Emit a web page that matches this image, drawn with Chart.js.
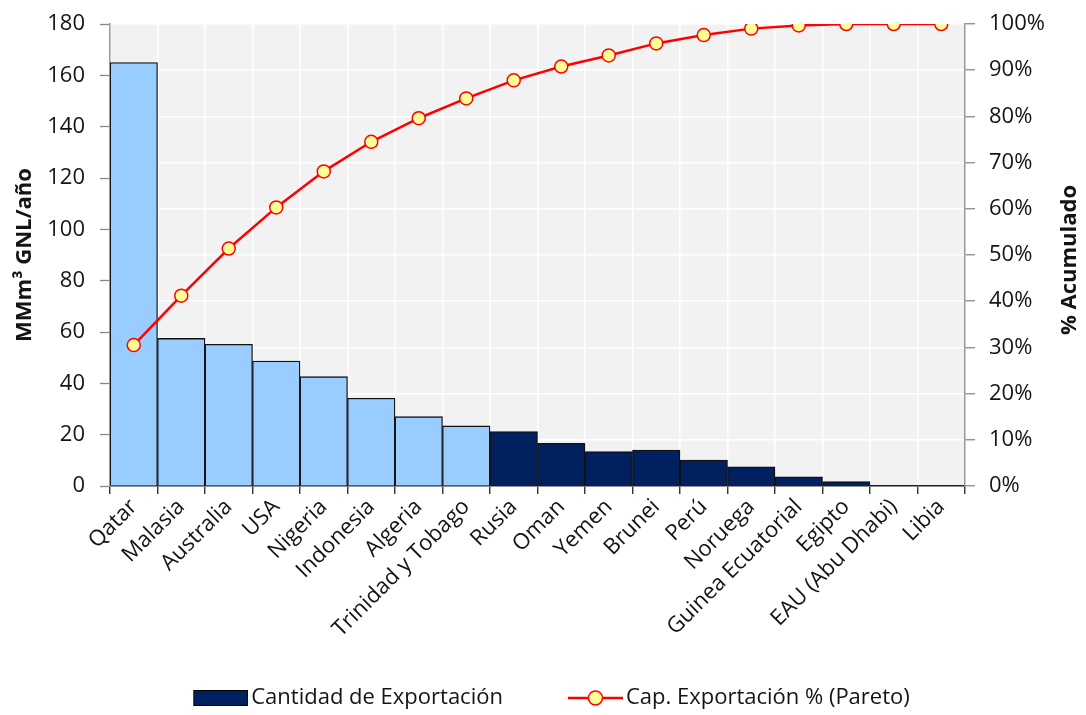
<!DOCTYPE html>
<html>
<head>
<meta charset="utf-8">
<script src="https://cdn.jsdelivr.net/npm/chart.js@4"></script>
<style>
  html, body { margin: 0; padding: 0; background: #ffffff; }
  #wrap { width: 1086px; height: 715px; }
</style>
</head>
<body>
<div id="wrap"><canvas id="c" width="1086" height="715"></canvas></div>
<script>
// LNG exporters, export volume (MMm³/year) and cumulative share (%)
const countries = ["Qatar", "Malasia", "Australia", "USA", "Nigeria", "Indonesia", "Algeria",
  "Trinidad y Tobago", "Rusia", "Oman", "Yemen", "Brunei", "Perú", "Noruega",
  "Guinea Ecuatorial", "Egipto", "EAU (Abu Dhabi)", "Libia"];
const exportVolume = [165, 57.5, 55.2, 48.7, 42.6, 34.2, 27.0, 23.4, 21.2, 16.6, 13.4, 14.0, 10.1, 7.5, 3.6, 1.7, 0.3, 0.0];
const paretoPct = [30.5, 41.2, 51.4, 60.3, 68.1, 74.5, 79.6, 83.9, 87.8, 90.8, 93.2, 95.8, 97.6, 99.0, 99.7, 100, 100, 100];
const leftTicks = [0, 20, 40, 60, 80, 100, 120, 140, 160, 180];
const rightTicks = [0, 10, 20, 30, 40, 50, 60, 70, 80, 90, 100];
const highlightCount = 8; // leading group drawn in light blue

const LIGHT = "#99CCFF";
const NAVY = "#00205F";
const RED = "#FF0000";
const YELLOW = "#FFFF99";
const TEXT = "#141414";
const FONT = "'Open Sans', 'DejaVu Sans', sans-serif";

// legend swatches: transparent lead-in on the left, 55px marker flush right
const SW_BOX = 102;           // pointStyleWidth
const SW_IMG = SW_BOX + 16;   // image width
function barSwatch() {
  const cv = document.createElement("canvas");
  cv.width = SW_IMG; cv.height = 16;
  const g = cv.getContext("2d");
  const x0 = SW_IMG - 55;
  g.fillStyle = NAVY; g.fillRect(x0 + 0.5, 0.5, 54, 15);
  g.strokeStyle = "#000"; g.lineWidth = 1; g.strokeRect(x0 + 0.5, 0.5, 54, 15);
  return cv;
}
function lineSwatch() {
  const cv = document.createElement("canvas");
  cv.width = SW_IMG; cv.height = 18;
  const g = cv.getContext("2d");
  const x0 = SW_IMG - 55;
  g.strokeStyle = RED; g.lineWidth = 2.5;
  g.beginPath(); g.moveTo(x0, 9); g.lineTo(SW_IMG, 9); g.stroke();
  g.beginPath(); g.arc(x0 + 27.5, 9, 7, 0, Math.PI * 2);
  g.fillStyle = YELLOW; g.fill(); g.lineWidth = 1.5; g.stroke();
  return cv;
}

const plotBg = {
  id: "plotBg",
  beforeDraw(chart) {
    const { ctx, chartArea: a } = chart;
    ctx.save();
    ctx.fillStyle = "#F2F2F2";
    ctx.fillRect(a.left, a.top, a.right - a.left, a.bottom - a.top);
    ctx.restore();
  }
};

// right-hand axis title, reading bottom to top
const rightTitle = {
  id: "rightTitle",
  afterDraw(chart) {
    const { ctx, chartArea: a } = chart;
    ctx.save();
    ctx.translate(1070, (a.top + a.bottom) / 2 + 5);
    ctx.rotate(-Math.PI / 2);
    ctx.font = "bold 22px " + FONT;
    ctx.fillStyle = TEXT;
    ctx.textAlign = "center";
    ctx.textBaseline = "middle";
    ctx.fillText("% Acumulado", 0, 0);
    ctx.restore();
  }
};

new Chart(document.getElementById("c"), {
  data: {
    labels: countries,
    datasets: [
      {
        type: "line",
        label: "Cap. Exportación % (Pareto)",
        data: paretoPct,
        yAxisID: "y1",
        borderColor: RED,
        borderWidth: 2.5,
        pointRadius: 6.5,
        pointHoverRadius: 6.5,
        pointBackgroundColor: YELLOW,
        pointBorderColor: RED,
        pointBorderWidth: 1.5,
        tension: 0,
        order: 0
      },
      {
        type: "bar",
        label: "Cantidad de Exportación",
        data: exportVolume,
        yAxisID: "y",
        backgroundColor: ctx => ctx.dataIndex < highlightCount ? LIGHT : NAVY,
        borderColor: "#111111",
        borderWidth: 1.3,
        barPercentage: 1,
        categoryPercentage: 1,
        order: 1
      }
    ]
  },
  options: {
    responsive: false,
    animation: false,
    devicePixelRatio: 1,
    layout: { padding: { top: 24, left: 0, right: 38, bottom: -4 } },
    plugins: {
      tooltip: { enabled: false },
      legend: {
        position: "bottom",
        labels: {
          usePointStyle: true,
          pointStyleWidth: SW_BOX,
          padding: 10,
          color: TEXT,
          font: { family: FONT, size: 22, lineHeight: 1.0 },
          generateLabels() {
            return [
              { text: "Cantidad de Exportación", pointStyle: barSwatch(), datasetIndex: 1, hidden: false, lineWidth: 0, strokeStyle: "rgba(0,0,0,0)", fillStyle: NAVY, fontColor: TEXT },
              { text: "Cap. Exportación % (Pareto)", pointStyle: lineSwatch(), datasetIndex: 0, hidden: false, lineWidth: 0, strokeStyle: "rgba(0,0,0,0)", fillStyle: YELLOW, fontColor: TEXT }
            ];
          }
        }
      }
    },
    scales: {
      x: {
        offset: true,
        grid: { offset: true, color: "#FFFFFF", lineWidth: 1.5, tickColor: "#222222", tickLength: 8, tickWidth: 1.3 },
        border: { color: "#222222", width: 1.5 },
        ticks: {
          color: TEXT,
          font: { family: FONT, size: 22 },
          minRotation: 45, maxRotation: 45,
          autoSkip: false,
          padding: 0
        },
        afterFit(scale) { scale.height = 191; }
      },
      y: {
        position: "left",
        min: 0, max: 180,
        afterBuildTicks(scale) { scale.ticks = leftTicks.map(v => ({ value: v })); },
        grid: { drawOnChartArea: false, tickColor: "#888888", tickLength: 10, tickWidth: 1.3 },
        border: { color: "#999999", width: 1.5 },
        ticks: { color: TEXT, font: { family: FONT, size: 22 }, padding: 15 },
        title: { display: true, text: "MMm³ GNL/año", color: TEXT, font: { family: FONT, size: 22, weight: "bold" }, padding: { top: 12, bottom: 0 } },
        afterFit(scale) { scale.width = 110; scale.paddingTop = 12; scale.paddingBottom = 12; }
      },
      y1: {
        position: "right",
        min: 0, max: 100,
        afterBuildTicks(scale) { scale.ticks = rightTicks.map(v => ({ value: v })); },
        grid: { drawOnChartArea: true, color: "#FFFFFF", lineWidth: 1.5, tickColor: "#888888", tickLength: 10, tickWidth: 1.3 },
        border: { color: "#999999", width: 1.5 },
        ticks: { color: TEXT, font: { family: FONT, size: 22 }, padding: 14, callback: v => v + "%" },
        afterFit(scale) { scale.width = 83; scale.paddingTop = 12; scale.paddingBottom = 12; }
      }
    }
  },
  plugins: [plotBg, rightTitle]
});
</script>
</body>
</html>
